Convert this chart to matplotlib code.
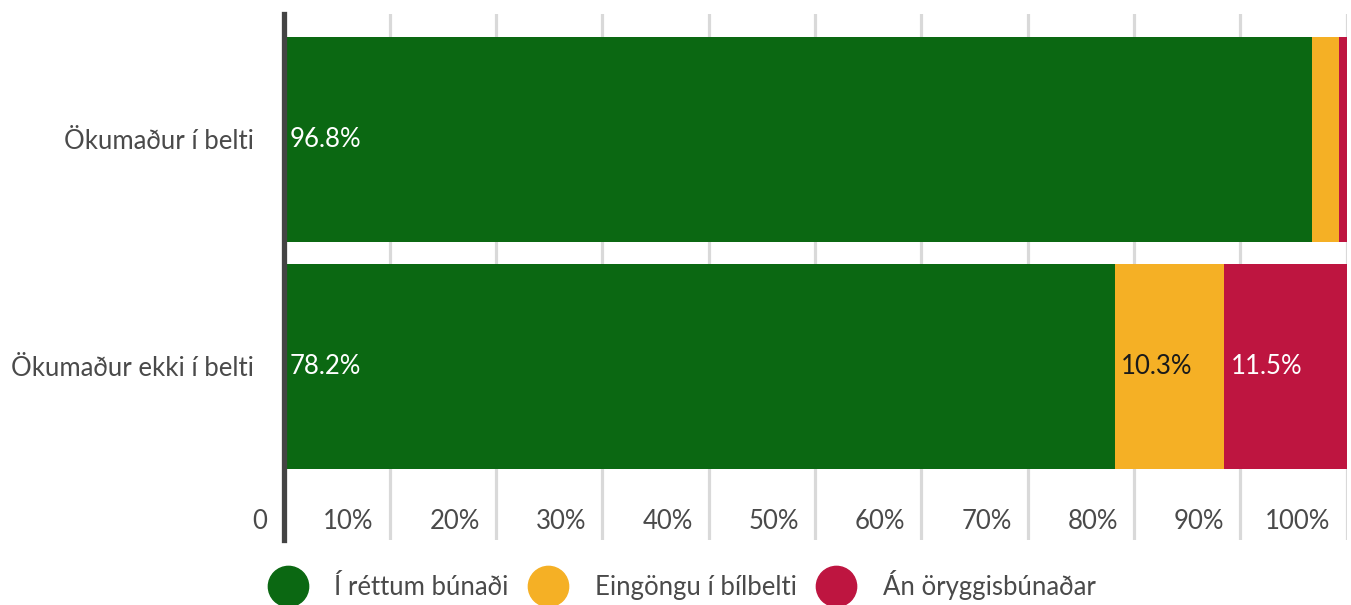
import matplotlib
matplotlib.use("Agg")
import matplotlib.pyplot as plt
from matplotlib.lines import Line2D
import numpy as np

plt.rcParams['font.family'] = ['Lato', 'DejaVu Sans']

# data
categories = ['Ökumaður í belti', 'Ökumaður ekki í belti']
series_names = ['Í réttum búnaði', 'Eingöngu í bílbelti', 'Án öryggisbúnaðar']
rett = [96.8, 78.2]
eingongu = [2.5, 10.3]
an = [0.7, 11.5]
colors = ['#0B6812', '#F5B025', '#BE1540']
label_colors = ['white', '#1a1a1a', 'white']
ticks = [0, 10, 20, 30, 40, 50, 60, 70, 80, 90, 100]
tick_labels = ['0'] + [f'{t}%' for t in ticks[1:]]

text_grey = '#4a4a4a'
fs = 18.5

fig = plt.figure(figsize=(13.51, 6.05), dpi=100)
ax = fig.add_axes([283.5 / 1351, 1 - 540 / 605, (1346.5 - 283.5) / 1351, (540 - 14) / 605])

y = np.arange(len(categories))
left = np.zeros(len(categories))
for vals, c, lc in zip([rett, eingongu, an], colors, label_colors):
    bars = ax.barh(y, vals, left=left, height=0.905, color=c, zorder=2)
    for b, v in zip(bars, vals):
        if v >= 5:
            ax.annotate(f'{v}%', (b.get_x(), b.get_y() + b.get_height() / 2),
                        xytext=(4.5, 0), textcoords='offset points',
                        ha='left', va='center', color=lc, fontsize=fs, zorder=3)
    left = left + np.array(vals)

ax.set_xlim(0, 100)
ax.set_ylim(1.768, -0.554)

# grid lines
for t in ticks[1:]:
    ax.axvline(t, color='#d9d9d9', lw=2.3, zorder=1)

ax.set_xticks([])
ax.set_yticks(y)
ax.set_yticklabels(categories, fontsize=fs, color=text_grey)
ax.tick_params(axis='y', length=0, pad=21)

# tick labels sit inside the plot, left of each grid line
for t, lab in zip(ticks, tick_labels):
    ax.annotate(lab, (t, 0), xycoords=('data', 'axes fraction'),
                xytext=(-11.5, 13), textcoords='offset points',
                ha='right', va='center', fontsize=fs, color=text_grey)

for s in ['top', 'right', 'bottom']:
    ax.spines[s].set_visible(False)
ax.spines['left'].set_color('#444444')
ax.spines['left'].set_linewidth(3.8)
ax.spines['left'].set_zorder(4)

handles = [Line2D([], [], marker='o', linestyle='none', markersize=29,
                  markerfacecolor=c, markeredgecolor=c) for c in colors]
leg = fig.legend(handles, series_names, loc='center', bbox_to_anchor=(0.503, 0.033),
                 ncol=3, frameon=False, fontsize=fs, handlelength=1.9,
                 handletextpad=0.85, columnspacing=0.6)
for txt in leg.get_texts():
    txt.set_color(text_grey)

fig.savefig('out.png', dpi=100)
